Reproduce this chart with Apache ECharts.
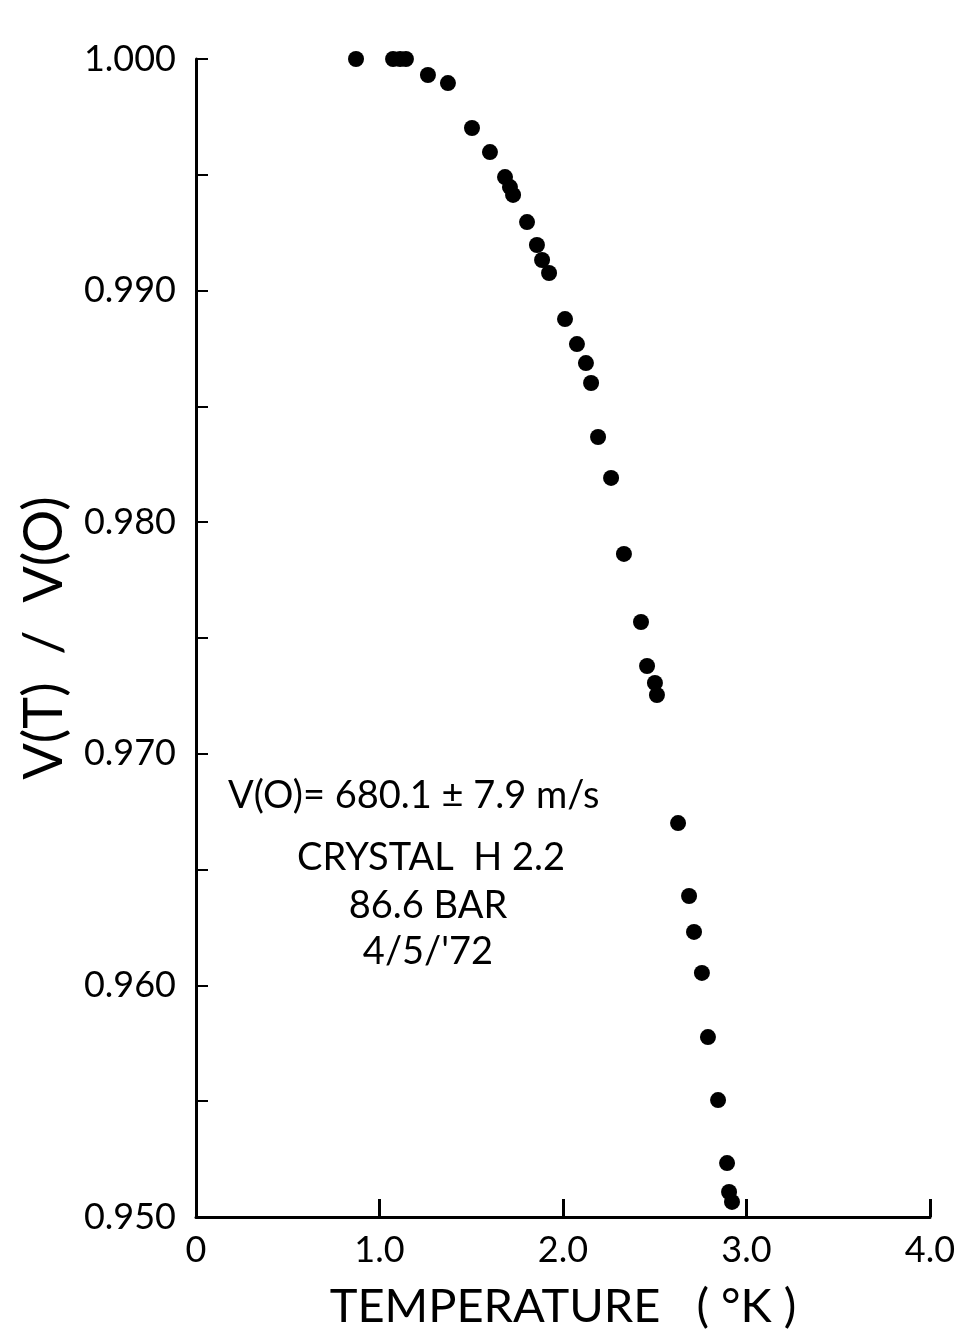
<!DOCTYPE html>
<html>
<head>
<meta charset="utf-8">
<script src="https://cdn.jsdelivr.net/npm/echarts@6/dist/echarts.min.js"></script>
<style>
html,body{margin:0;padding:0;background:#fff;}
#chart{width:962px;height:1340px;}
</style>
</head>
<body>
<div id="chart"></div>
<script>
// Temperature (°K)
const temperature = [0.872, 1.074, 1.112, 1.144, 1.264, 1.373, 1.504, 1.602, 1.684, 1.711, 1.728, 1.804, 1.858, 1.886, 1.924, 2.011, 2.076, 2.125, 2.153, 2.191, 2.262, 2.332, 2.425, 2.458, 2.501, 2.512, 2.627, 2.687, 2.714, 2.757, 2.790, 2.845, 2.894, 2.905, 2.921];
// V(T)/V(O)
const ratio = [1.0000, 1.0000, 1.0000, 1.0000, 0.99931, 0.99896, 0.99702, 0.99598, 0.99490, 0.99447, 0.99413, 0.99296, 0.99197, 0.99132, 0.99076, 0.98877, 0.98769, 0.98687, 0.98601, 0.98368, 0.98191, 0.97863, 0.97569, 0.97379, 0.97306, 0.97254, 0.96701, 0.96386, 0.96231, 0.96054, 0.95777, 0.95505, 0.95233, 0.95108, 0.95065];
const xTickLabels = {0: '0', 1: '1.0', 2: '2.0', 3: '3.0', 4: '4.0'};
const annotationLines = ['V(O)= 680.1 \u00b1 7.9 m/s', 'CRYSTAL  H 2.2', '86.6 BAR', "4/5/'72"];

const FONT = 'Lato, "Noto Sans", sans-serif';
const chart = echarts.init(document.getElementById('chart'), null, {renderer: 'canvas'});
const points = temperature.map((t, i) => [t, ratio[i]]);

chart.setOption({
  backgroundColor: '#ffffff',
  animation: false,
  grid: {left: 196, right: 32, top: 59, bottom: 123},
  xAxis: {
    type: 'value', min: 0, max: 4, interval: 1,
    name: 'TEMPERATURE   ( \u00b0K )',
    nameLocation: 'middle', nameGap: 66,
    nameTextStyle: {fontFamily: FONT, fontSize: 47, color: '#000'},
    axisLine: {show: true, lineStyle: {color: '#000', width: 3}},
    axisTick: {show: true, inside: true, length: 18, lineStyle: {color: '#000', width: 3}},
    axisLabel: {margin: 15, fontFamily: FONT, fontSize: 36, color: '#000',
      formatter: v => xTickLabels[Math.round(v)] || ''},
    splitLine: {show: false}
  },
  yAxis: {
    type: 'value', min: 0.95, max: 1.0, interval: 0.005,
    name: 'V(T)  /  V(O)',
    nameLocation: 'middle', nameGap: 124, nameRotate: 90,
    nameTextStyle: {fontFamily: FONT, fontSize: 54, color: '#000'},
    axisLine: {show: true, lineStyle: {color: '#000', width: 3}},
    axisTick: {show: true, inside: true, length: 12, lineStyle: {color: '#000', width: 2}},
    axisLabel: {margin: 20, fontFamily: FONT, fontSize: 36, color: '#000',
      formatter: v => (Math.round(v * 1000) % 10 === 0) ? v.toFixed(3) : ''},
    splitLine: {show: false}
  },
  series: [{
    type: 'scatter',
    data: points,
    symbol: 'circle',
    symbolSize: 16,
    itemStyle: {color: '#000', opacity: 1}
  }],
  graphic: [
    {type: 'text', left: 228, top: 777, style: {text: annotationLines[0], font: '38px ' + FONT, fill: '#000'}},
    {type: 'text', x: 431, y: 858, style: {text: annotationLines[1], font: '38px ' + FONT, fill: '#000', textAlign: 'center', textVerticalAlign: 'middle'}},
    {type: 'text', x: 428, y: 906, style: {text: annotationLines[2], font: '38px ' + FONT, fill: '#000', textAlign: 'center', textVerticalAlign: 'middle'}},
    {type: 'text', x: 428, y: 952, style: {text: annotationLines[3], font: '38px ' + FONT, fill: '#000', textAlign: 'center', textVerticalAlign: 'middle'}}
  ]
});
</script>
</body>
</html>
